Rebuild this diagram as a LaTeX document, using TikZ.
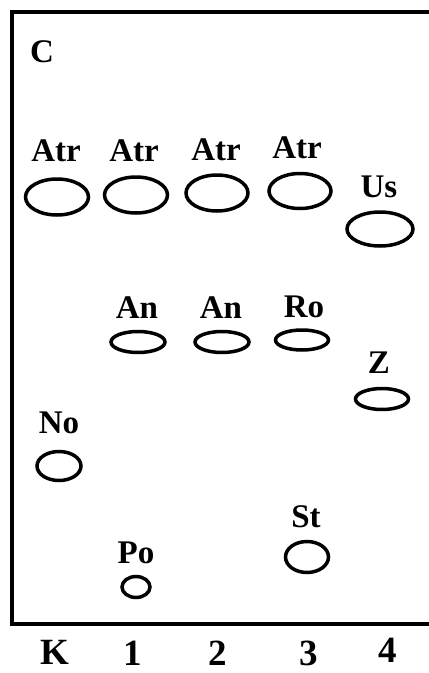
\documentclass[tikz,border=0pt]{standalone}
\usepackage{fontspec}
\setmainfont{Liberation Serif}
\usetikzlibrary{shapes.geometric}
\begin{document}
\begin{tikzpicture}[x=1pt,y=-1pt,
  lbl/.style={font=\bfseries\fontsize{33}{33}\selectfont,anchor=base,inner sep=0pt},
  lane/.style={font=\bfseries\fontsize{37}{37}\selectfont,anchor=base,inner sep=0pt},
  spot/.style={draw,ellipse,line width=3.5pt,inner sep=0pt}]
\useasboundingbox (0,0) rectangle (429,673);
\draw[line width=4.5pt] (431,12) -- (12,12) -- (12,624) -- (431,624);
\node[lbl] (c) at (42,62) {C};
% Atr row
\node[lbl] (t1) at (56,161) {Atr};
\node[lbl] (t2) at (134,161) {Atr};
\node[lbl] (t3) at (216,160) {Atr};
\node[lbl] (t4) at (297,158) {Atr};
\node[spot,minimum width=63pt,minimum height=36pt] (a1) at (57,197) {};
\node[spot,minimum width=63pt,minimum height=36pt] (a2) at (136,195) {};
\node[spot,minimum width=62pt,minimum height=36pt] (a3) at (217,193) {};
\node[spot,minimum width=62pt,minimum height=35pt] (a4) at (300,191) {};
\node[lbl] (tus) at (379,197) {Us};
\node[spot,minimum width=66pt,minimum height=34pt] (us) at (380,229) {};
% An row
\node[lbl] (tan1) at (137,318) {An};
\node[lbl] (tan2) at (221,318) {An};
\node[lbl] (tro) at (304,317) {Ro};
\node[spot,minimum width=54pt,minimum height=21pt] (an1) at (138,342) {};
\node[spot,minimum width=54pt,minimum height=21pt] (an2) at (222,342) {};
\node[spot,minimum width=53pt,minimum height=20pt] (ro) at (302,340) {};
\node[lbl] (tz) at (379,373) {Z};
\node[spot,minimum width=53pt,minimum height=21pt] (z) at (382,399) {};
% lower spots
\node[lbl] (tno) at (59,433) {No};
\node[spot,minimum width=44pt,minimum height=29pt] (no) at (59,466) {};
\node[lbl] (tst) at (306,527) {St};
\node[spot,minimum width=43pt,minimum height=31pt] (st) at (307,557) {};
\node[lbl] (tpo) at (136,563) {Po};
\node[spot,minimum width=28pt,minimum height=21pt] (po) at (136,587) {};
% lane labels
\node[lane] (k) at (55,664) {K};
\node[lane] (l1) at (133,665) {1};
\node[lane] (l2) at (218,665) {2};
\node[lane] (l3) at (309,665) {3};
\node[lane] (l4) at (388,662) {4};
\end{tikzpicture}
\end{document}
